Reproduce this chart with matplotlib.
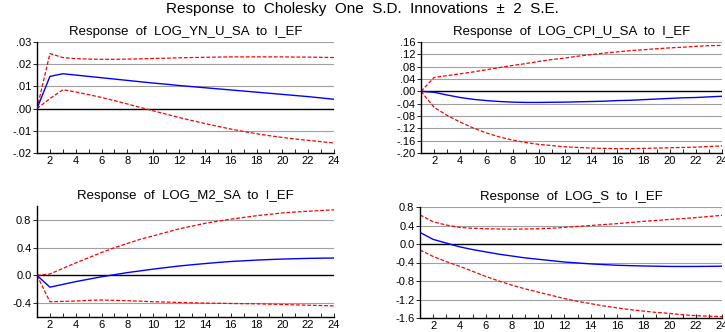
import matplotlib
matplotlib.use('Agg')
import matplotlib.pyplot as plt
import numpy as np

plt.rcParams['font.family'] = ['Liberation Sans', 'DejaVu Sans']

# periods
periods = list(range(1, 25))

# Response of LOG_YN_U_SA to I_EF
yn_resp = [0.0, 0.0145, 0.0157, 0.0151, 0.0145, 0.0139, 0.0133, 0.0127, 0.0121, 0.0115,
           0.0110, 0.0104, 0.0099, 0.0094, 0.0089, 0.0084, 0.0079, 0.0074, 0.0069, 0.0064,
           0.0059, 0.0054, 0.0048, 0.0042]
yn_upper = [0.0, 0.0248, 0.0230, 0.0225, 0.0223, 0.0222, 0.0222, 0.0223, 0.0224, 0.0226,
            0.0227, 0.0229, 0.0230, 0.0231, 0.0232, 0.0233, 0.0233, 0.0233, 0.0233, 0.0233,
            0.0232, 0.0232, 0.0231, 0.0230]
yn_lower = [0.0, 0.0045, 0.0085, 0.0075, 0.0063, 0.0050, 0.0036, 0.0021, 0.0005, -0.0010,
            -0.0025, -0.0040, -0.0054, -0.0067, -0.0080, -0.0092, -0.0103, -0.0113, -0.0122, -0.0130,
            -0.0137, -0.0143, -0.0149, -0.0155]

# Response of LOG_CPI_U_SA to I_EF
cpi_resp = [0.0, -0.003, -0.012, -0.020, -0.026, -0.030, -0.033, -0.035, -0.036, -0.036,
            -0.0355, -0.035, -0.034, -0.033, -0.032, -0.030, -0.029, -0.027, -0.025, -0.023,
            -0.021, -0.020, -0.018, -0.016]
cpi_upper = [0.0, 0.045, 0.051, 0.057, 0.063, 0.070, 0.077, 0.084, 0.090, 0.097,
             0.103, 0.108, 0.114, 0.119, 0.124, 0.128, 0.132, 0.135, 0.138, 0.141,
             0.143, 0.146, 0.148, 0.149]
cpi_lower = [0.0, -0.052, -0.078, -0.100, -0.119, -0.135, -0.148, -0.158, -0.166, -0.172,
             -0.176, -0.180, -0.182, -0.184, -0.185, -0.186, -0.186, -0.185, -0.184, -0.183,
             -0.182, -0.181, -0.179, -0.177]

# Response of LOG_M2_SA to I_EF
m2_resp = [0.0, -0.17, -0.13, -0.09, -0.055, -0.02, 0.01, 0.04, 0.065, 0.09,
           0.113, 0.135, 0.153, 0.17, 0.186, 0.20, 0.21, 0.22, 0.228, 0.235,
           0.24, 0.245, 0.248, 0.25]
m2_upper = [0.0, 0.02, 0.10, 0.18, 0.255, 0.33, 0.40, 0.46, 0.52, 0.57,
            0.62, 0.67, 0.71, 0.75, 0.78, 0.81, 0.835, 0.86, 0.88, 0.90,
            0.913, 0.925, 0.935, 0.945]
m2_lower = [0.0, -0.38, -0.375, -0.37, -0.36, -0.355, -0.36, -0.365, -0.372, -0.38,
            -0.385, -0.39, -0.395, -0.40, -0.402, -0.405, -0.408, -0.41, -0.415, -0.42,
            -0.425, -0.43, -0.435, -0.44]

# Response of LOG_S to I_EF
s_resp = [0.25, 0.10, 0.02, -0.06, -0.12, -0.17, -0.22, -0.26, -0.30, -0.33,
          -0.36, -0.39, -0.41, -0.43, -0.445, -0.46, -0.468, -0.475, -0.48, -0.485,
          -0.486, -0.485, -0.483, -0.48]
s_upper = [0.63, 0.48, 0.41, 0.36, 0.34, 0.33, 0.325, 0.32, 0.325, 0.33,
           0.34, 0.36, 0.38, 0.40, 0.42, 0.44, 0.465, 0.49, 0.51, 0.53,
           0.55, 0.57, 0.595, 0.62]
s_lower = [-0.13, -0.27, -0.38, -0.48, -0.59, -0.70, -0.80, -0.89, -0.97, -1.04,
           -1.11, -1.18, -1.24, -1.29, -1.34, -1.38, -1.42, -1.45, -1.48, -1.50,
           -1.53, -1.55, -1.56, -1.57]

titles = ['Response  of  LOG_YN_U_SA  to  I_EF', 'Response  of  LOG_CPI_U_SA  to  I_EF',
          'Response  of  LOG_M2_SA  to  I_EF', 'Response  of  LOG_S  to  I_EF']
series = [(yn_resp, yn_upper, yn_lower), (cpi_resp, cpi_upper, cpi_lower),
          (m2_resp, m2_upper, m2_lower), (s_resp, s_upper, s_lower)]
ylims = [(-0.02, 0.03), (-0.20, 0.16), (-0.6, 1.0), (-1.6, 0.8)]
yticks = [[-0.02, -0.01, 0.0, 0.01, 0.02, 0.03],
          [-0.20, -0.16, -0.12, -0.08, -0.04, 0.0, 0.04, 0.08, 0.12, 0.16],
          [-0.4, 0.0, 0.4, 0.8],
          [-1.6, -1.2, -0.8, -0.4, 0.0, 0.4, 0.8]]
ylabels = [['-.02', '-.01', '.00', '.01', '.02', '.03'],
           ['-.20', '-.16', '-.12', '-.08', '-.04', '.00', '.04', '.08', '.12', '.16'],
           ['-0.4', '0.0', '0.4', '0.8'],
           ['-1.6', '-1.2', '-0.8', '-0.4', '0.0', '0.4', '0.8']]

W, H = 725, 332
boxes = [(37, 42, 334, 153), (421, 42, 722, 153),
         (37, 206, 334, 317), (420, 207, 722, 318)]

fig = plt.figure(figsize=(7.25, 3.32), dpi=100)
fig.text(0.5, 1 - 9 / H, 'Response  to  Cholesky  One  S.D.  Innovations  \u00b1  2  S.E.',
         ha='center', va='center', fontsize=11)

for i in range(4):
    x0, y0, x1, y1 = boxes[i]
    ax = fig.add_axes([x0 / W, 1 - y1 / H, (x1 - x0) / W, (y1 - y0) / H])
    resp, up, lo = series[i]
    for t in yticks[i]:
        if t == 0:
            ax.axhline(0, color='black', lw=1.0, zorder=1)
        else:
            ax.axhline(t, color='#a0a0a0', lw=0.8, zorder=1)
    ax.plot(periods, up, color='red', ls=(0, (3, 1.5)), lw=0.9, zorder=2)
    ax.plot(periods, lo, color='red', ls=(0, (3, 1.5)), lw=0.9, zorder=2)
    ax.plot(periods, resp, color='blue', lw=1.0, zorder=3)
    ax.set_xlim(1, 24)
    ax.set_ylim(*ylims[i])
    ax.set_xticks(range(2, 25, 2))
    ax.set_xticks(range(1, 25), minor=True)
    ax.set_yticks(yticks[i])
    ax.set_yticklabels(ylabels[i])
    ax.tick_params(axis='x', direction='in', length=3, width=0.6, labelsize=8, pad=2)
    ax.tick_params(axis='x', which='minor', direction='in', length=3, width=0.6)
    ax.tick_params(axis='y', direction='out', length=3, width=0.6, labelsize=8, pad=1)
    for s in ['top', 'right']:
        ax.spines[s].set_visible(False)
    ax.spines['left'].set_linewidth(1.0)
    ax.spines['bottom'].set_linewidth(1.0)
    ax.set_title(titles[i], fontsize=9.5, pad=5)

fig.savefig('out.png', dpi=100)
